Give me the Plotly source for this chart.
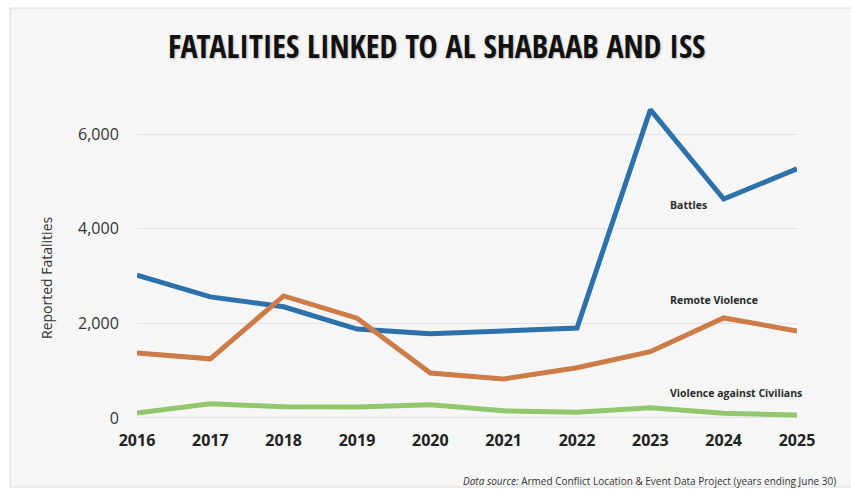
import plotly.graph_objects as go

years = [2016, 2017, 2018, 2019, 2020, 2021, 2022, 2023, 2024, 2025]
battles = [3020, 2560, 2350, 1880, 1780, 1840, 1900, 6520, 4630, 5270]
remote_violence = [1375, 1250, 2580, 2110, 950, 825, 1060, 1400, 2115, 1840]
violence_civilians = [105, 300, 235, 230, 280, 150, 120, 215, 100, 60]

series_names = ["Battles", "Remote Violence", "Violence against Civilians"]
series_values = [battles, remote_violence, violence_civilians]
series_colors = ["#2d71ab", "#cd7b47", "#92c86d"]
label_y = [4500, 2500, 530]

y_ticks = [0, 2000, 4000, 6000]
y_tick_text = ["0", "2,000", "4,000", "6,000"]

W, H = 851, 494
L, R, T, B = 137, 54, 87, 69
pw, ph = W - L - R, H - T - B


def px_x(p):
    return (p - L) / pw


def px_y(p):
    return (H - B - p) / ph


fig = go.Figure()
for name, vals, col in zip(series_names, series_values, series_colors):
    fig.add_trace(go.Scatter(x=years, y=vals, mode="lines", name=name,
                             line=dict(color=col, width=5)))

annotations = []
for name, ly in zip(series_names, label_y):
    annotations.append(dict(x=2023.24, y=ly, xref="x", yref="y", text="<b>" + name + "</b>",
                            showarrow=False, xanchor="left", yanchor="middle",
                            font=dict(family="Open Sans", size=10.5, color="#2a2a2a")))

annotations.append(dict(x=px_x(436), y=px_y(46), xref="paper", yref="paper",
                        text="<b>FATALITIES LINKED TO AL SHABAAB AND ISS</b>",
                        showarrow=False, xanchor="center", yanchor="middle",
                        font=dict(family="Open Sans Condensed, DejaVu Sans Condensed, sans-serif",
                                  size=32, color="#111111",
                                  shadow="1px 1px 2px #bbbbbb")))
annotations.append(dict(x=px_x(46), y=px_y(278), xref="paper", yref="paper",
                        text="Reported Fatalities", textangle=-90,
                        showarrow=False, xanchor="center", yanchor="middle",
                        font=dict(family="Open Sans", size=14, color="#333333")))
annotations.append(dict(x=px_x(461), y=px_y(481), xref="paper", yref="paper",
                        text="<i>Data source:</i> Armed Conflict Location &amp; Event Data Project (years ending June 30)",
                        showarrow=False, xanchor="left", yanchor="middle",
                        font=dict(family="Open Sans", size=10, color="#333333")))

fig.update_layout(
    width=W, height=H,
    margin=dict(l=L, r=R, t=T, b=B),
    paper_bgcolor="white",
    plot_bgcolor="rgba(0,0,0,0)",
    showlegend=False,
    annotations=annotations,
    shapes=[dict(type="rect", xref="paper", yref="paper", layer="below",
                 x0=px_x(10), x1=px_x(870), y0=px_y(487), y1=px_y(8),
                 fillcolor="#f6f6f6", line=dict(color="#dcdcdc", width=1))],
    xaxis=dict(range=[2016, 2025], tickvals=years,
               ticktext=["<b>%d</b>" % y for y in years],
               showgrid=False, zeroline=False, showline=False,
               tickfont=dict(family="Open Sans", size=16, color="#222222"),
               ticks="outside", ticklen=1, tickcolor="rgba(0,0,0,0)"),
    yaxis=dict(range=[-150, 7000], tickvals=y_ticks, ticktext=y_tick_text,
               showgrid=True, gridcolor="#e2e2e2", gridwidth=1, zeroline=False,
               showline=False,
               tickfont=dict(family="Open Sans", size=16, color="#333333"),
               ticks="outside", ticklen=14, tickcolor="rgba(0,0,0,0)"),
)

fig.write_html("out.html")
